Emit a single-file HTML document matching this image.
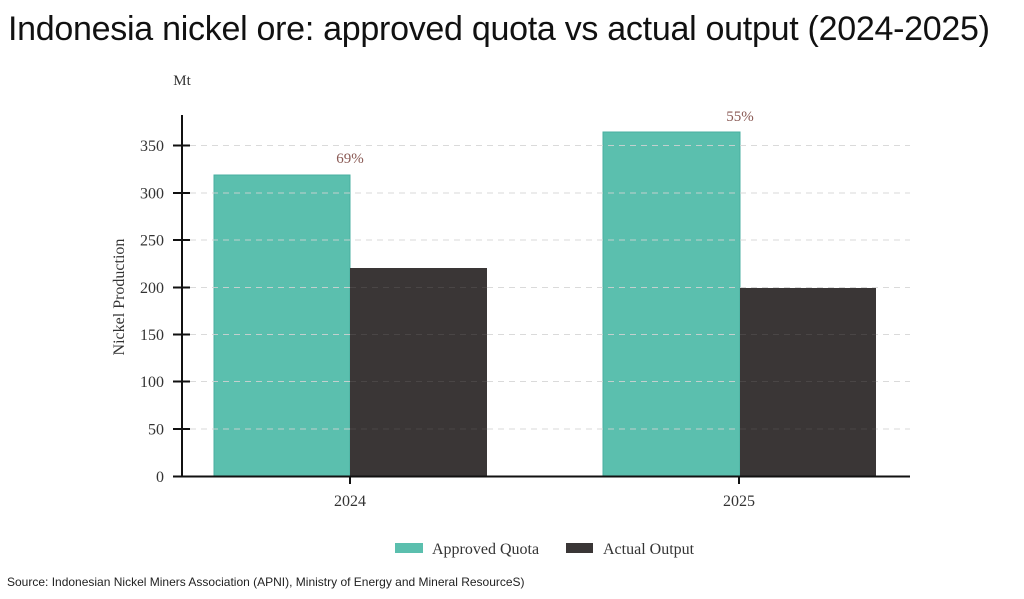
<!DOCTYPE html>
<html>
<head>
<meta charset="utf-8">
<style>
html,body{margin:0;padding:0;background:#fff;}
body{width:1024px;height:599px;overflow:hidden;position:relative;}
.title{position:absolute;left:8px;top:10px;font-family:"Liberation Sans",Arial,sans-serif;font-size:34px;color:#111;white-space:nowrap;letter-spacing:-0.28px;}
.src{position:absolute;left:7px;top:575px;font-family:"Liberation Sans",Arial,sans-serif;font-size:12px;color:#222;white-space:nowrap;}
svg{position:absolute;left:0;top:0;}
</style>
</head>
<body>
<div class="title">Indonesia nickel ore: approved quota vs actual output (2024-2025)</div>
<svg width="1024" height="599" viewBox="0 0 1024 599" font-family="Liberation Serif, serif">
  <!-- teal bars -->
  <rect x="214" y="175" width="136" height="301" fill="#5bbfae" stroke="#48afa0" stroke-width="1"/>
  <rect x="603" y="132" width="137" height="344" fill="#5bbfae" stroke="#48afa0" stroke-width="1"/>
  <!-- gridlines -->
  <g stroke="#d4d4d4" stroke-width="1" stroke-dasharray="6,5" opacity="0.85">
    <line x1="190" y1="145.5" x2="910" y2="145.5"/>
    <line x1="190" y1="193" x2="910" y2="193"/>
    <line x1="190" y1="240" x2="910" y2="240"/>
    <line x1="190" y1="287.5" x2="910" y2="287.5"/>
    <line x1="190" y1="334.5" x2="910" y2="334.5"/>
    <line x1="190" y1="381.5" x2="910" y2="381.5"/>
    <line x1="190" y1="429" x2="910" y2="429"/>
  </g>
  <!-- dark bars -->
  <rect x="350" y="268" width="137" height="208" fill="#3a3636"/>
  <rect x="740" y="288" width="136" height="188" fill="#3a3636"/>
  <g stroke="#4a4646" stroke-width="1" stroke-dasharray="6,5">
    <line x1="350" y1="287.5" x2="487" y2="287.5"/>
    <line x1="350" y1="334.5" x2="487" y2="334.5"/>
    <line x1="350" y1="381.5" x2="487" y2="381.5"/>
    <line x1="350" y1="429" x2="487" y2="429"/>
    <line x1="740" y1="334.5" x2="876" y2="334.5"/>
    <line x1="740" y1="381.5" x2="876" y2="381.5"/>
    <line x1="740" y1="429" x2="876" y2="429"/>
  </g>
  <!-- axes -->
  <line x1="182" y1="115" x2="182" y2="477" stroke="#111" stroke-width="2"/>
  <line x1="173" y1="476.5" x2="910" y2="476.5" stroke="#111" stroke-width="2"/>
  <g stroke="#111" stroke-width="2">
    <line x1="173" y1="145.5" x2="190" y2="145.5"/>
    <line x1="173" y1="193" x2="190" y2="193"/>
    <line x1="173" y1="240" x2="190" y2="240"/>
    <line x1="173" y1="287.5" x2="190" y2="287.5"/>
    <line x1="173" y1="334.5" x2="190" y2="334.5"/>
    <line x1="173" y1="381.5" x2="190" y2="381.5"/>
    <line x1="173" y1="429" x2="190" y2="429"/>
    <line x1="350" y1="476" x2="350" y2="484"/>
    <line x1="739" y1="476" x2="739" y2="484"/>
  </g>
  <!-- y tick labels -->
  <g font-size="16" fill="#333" text-anchor="end">
    <text x="164" y="151">350</text>
    <text x="164" y="198.5">300</text>
    <text x="164" y="245.5">250</text>
    <text x="164" y="293">200</text>
    <text x="164" y="340">150</text>
    <text x="164" y="387">100</text>
    <text x="164" y="434.5">50</text>
    <text x="164" y="482">0</text>
  </g>
  <text x="182" y="85" font-size="15" fill="#333" text-anchor="middle">Mt</text>
  <text transform="translate(124,297) rotate(-90)" font-size="16" fill="#333" text-anchor="middle">Nickel Production</text>
  <!-- x labels -->
  <g font-size="16" fill="#333" text-anchor="middle">
    <text x="350" y="506">2024</text>
    <text x="739" y="506">2025</text>
  </g>
  <!-- percentages -->
  <g font-size="15" fill="#8a5a55" text-anchor="middle">
    <text x="350" y="163">69%</text>
    <text x="740" y="121">55%</text>
  </g>
  <!-- legend -->
  <rect x="395" y="543" width="28" height="10" fill="#5bbfae"/>
  <text x="432" y="554" font-size="16" fill="#333">Approved Quota</text>
  <rect x="566" y="543" width="27" height="10" fill="#3a3636"/>
  <text x="603" y="554" font-size="16" fill="#333">Actual Output</text>
</svg>
<div class="src">Source: Indonesian Nickel Miners Association (APNI), Ministry of Energy and Mineral ResourceS)</div>
</body>
</html>
